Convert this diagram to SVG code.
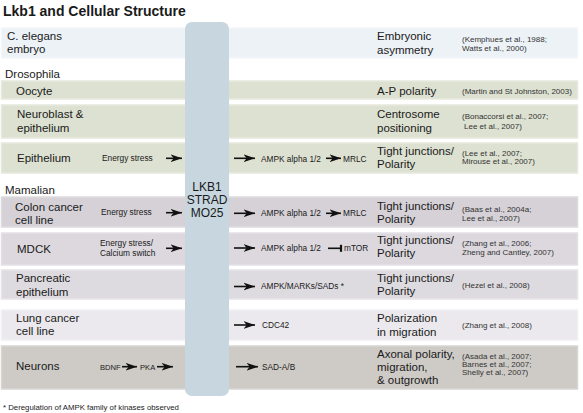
<svg xmlns="http://www.w3.org/2000/svg" width="583" height="413" viewBox="0 0 583 413">
<defs>
<style>
text{font-family:"Liberation Sans",Arial,Helvetica,sans-serif;fill:#1a1a1a}
.t{font-size:14px;font-weight:bold}
.l{font-size:11.5px}
.r{font-size:11.5px}
.s{font-size:8.3px}
.s2{font-size:7.6px}
.ref{font-size:8px;fill:#333}
.c{font-size:12px;text-anchor:middle}
.fn{font-size:7.8px}
.band{stroke-width:1.5}
.ln{stroke:#111;stroke-width:1.6;fill:none}
</style>
<marker id="ah" markerUnits="userSpaceOnUse" markerWidth="12" markerHeight="9" viewBox="0 0 12 9" refX="11.5" refY="4.5" orient="auto">
<path d="M11.5,4.5 L0,0.6 L3.2,4.5 L0,8.4 Z" fill="#111"/>
</marker>
</defs>
<rect width="583" height="413" fill="#ffffff"/>
<text class="t" x="3" y="15.5">Lkb1 and Cellular Structure</text>

<g id="celegans">
<rect class="band" x="1.5" y="28" width="576" height="30" fill="#edf2f7" stroke="#f3f6fa"/>
<text class="l" x="7" y="39.5">C. elegans</text>
<text class="l" x="7" y="52.5">embryo</text>
<text class="r" x="377" y="40">Embryonic</text>
<text class="r" x="377" y="53.5">asymmetry</text>
<text class="ref" x="462" y="42">(Kemphues et al., 1988;</text>
<text class="ref" x="462" y="51">Watts et al., 2000)</text>
</g>

<text class="l" id="drosophila" x="5" y="77.5">Drosophila</text>

<g id="oocyte">
<rect class="band" x="1.5" y="81" width="576" height="18" fill="#dde1d1" stroke="#e6e9dd"/>
<text class="l" x="16" y="94.5">Oocyte</text>
<text class="r" x="377" y="95">A-P polarity</text>
<text class="ref" x="462" y="93.5">(Martin and St Johnston, 2003)</text>
</g>

<g id="neuroblast">
<rect class="band" x="1.5" y="105" width="576" height="33" fill="#dde1d1" stroke="#e6e9dd"/>
<text class="l" x="17" y="117.5">Neuroblast &amp;</text>
<text class="l" x="17" y="131.5">epithelium</text>
<text class="r" x="377" y="117.5">Centrosome</text>
<text class="r" x="377" y="131.5">positioning</text>
<text class="ref" x="462" y="119">(Bonaccorsi et al., 2007;</text>
<text class="ref" x="464" y="128.5">Lee et al., 2007)</text>
</g>

<g id="epithelium">
<rect class="band" x="1.5" y="143" width="576" height="30" fill="#dde1d1" stroke="#e6e9dd"/>
<text class="l" x="17" y="161.5">Epithelium</text>
<text class="s" x="102" y="160.5">Energy stress</text>
<text class="s" x="261" y="161.5">AMPK alpha 1/2</text>
<text class="s" x="343" y="161.5">MRLC</text>
<text class="r" x="377" y="154.5">Tight junctions/</text>
<text class="r" x="377" y="167.5">Polarity</text>
<text class="ref" x="462" y="155.5">(Lee et al., 2007;</text>
<text class="ref" x="462" y="164">Mirouse et al., 2007)</text>
</g>

<text class="l" id="mamalian" x="5" y="193.5">Mamalian</text>

<g id="colon">
<rect class="band" x="1.5" y="197" width="576" height="30" fill="#d5d1d7" stroke="#dedbe0"/>
<text class="l" x="15" y="210.5">Colon cancer</text>
<text class="l" x="15" y="223.5">cell line</text>
<text class="s" x="101" y="215">Energy stress</text>
<text class="s" x="261" y="216">AMPK alpha 1/2</text>
<text class="s" x="343" y="216">MRLC</text>
<text class="r" x="377" y="209.5">Tight junctions/</text>
<text class="r" x="377" y="222.5">Polarity</text>
<text class="ref" x="462" y="212">(Baas et al., 2004a;</text>
<text class="ref" x="462" y="220.5">Lee et al., 2007)</text>
</g>

<g id="mdck">
<rect class="band" x="1.5" y="233" width="576" height="32" fill="#dcd8de" stroke="#e4e1e6"/>
<text class="l" x="17" y="253">MDCK</text>
<text class="s" x="100" y="245.5">Energy stress/</text>
<text class="s" x="100" y="255.5">Calcium switch</text>
<text class="s" x="261" y="251">AMPK alpha 1/2</text>
<text class="s" x="344" y="251">mTOR</text>
<text class="r" x="377" y="243.5">Tight junctions/</text>
<text class="r" x="377" y="256.5">Polarity</text>
<text class="ref" x="462" y="246">(Zhang et al., 2006;</text>
<text class="ref" x="462" y="254.5">Zheng and Cantley, 2007)</text>
</g>

<g id="pancreatic">
<rect class="band" x="1.5" y="270" width="576" height="29" fill="#dedbe0" stroke="#e6e4e8"/>
<text class="l" x="16" y="282">Pancreatic</text>
<text class="l" x="16" y="295.5">epithelium</text>
<text class="s" x="261" y="289">AMPK/MARKs/SADs *</text>
<text class="r" x="377" y="281.5">Tight junctions/</text>
<text class="r" x="377" y="295">Polarity</text>
<text class="ref" x="462" y="287.5">(Hezel et al., 2008)</text>
</g>

<g id="lung">
<rect class="band" x="1.5" y="310" width="576" height="30" fill="#ebe9ed" stroke="#f1eff3"/>
<text class="l" x="16" y="321.5">Lung cancer</text>
<text class="l" x="16" y="335">cell line</text>
<text class="s" x="262" y="328">CDC42</text>
<text class="r" x="377" y="322">Polarization</text>
<text class="r" x="377" y="335.5">in migration</text>
<text class="ref" x="462" y="328">(Zhang et al., 2008)</text>
</g>

<g id="neurons">
<rect class="band" x="1.5" y="346" width="576" height="43" fill="#cecbc7" stroke="#d8d6d3"/>
<text class="l" x="16" y="369.5">Neurons</text>
<text class="s2" x="100" y="369.7">BDNF</text>
<text class="s2" x="140" y="369.7">PKA</text>
<text class="s" x="262" y="370">SAD-A/B</text>
<text class="r" x="377" y="357.5">Axonal polarity,</text>
<text class="r" x="377" y="370.5">migration,</text>
<text class="r" x="377" y="383.5">&amp; outgrowth</text>
<text class="ref" x="462" y="358.5">(Asada et al., 2007;</text>
<text class="ref" x="462" y="366.5">Barnes et al., 2007;</text>
<text class="ref" x="462" y="374.5">Shelly et al., 2007)</text>
</g>

<g id="lkb1">
<rect x="185" y="22" width="44" height="374" rx="7" fill="#c8d6e0"/>
<text class="c" x="207" y="191">LKB1</text>
<text class="c" x="207" y="204">STRAD</text>
<text class="c" x="207" y="216.5">MO25</text>
</g>

<g id="connectors">
<line class="ln" x1="166" y1="158.3" x2="182" y2="158.3" marker-end="url(#ah)"/>
<line class="ln" x1="234" y1="158.3" x2="255" y2="158.3" marker-end="url(#ah)"/>
<line class="ln" x1="326" y1="158.3" x2="341" y2="158.3" marker-end="url(#ah)"/>
<line class="ln" x1="166" y1="212.7" x2="182" y2="212.7" marker-end="url(#ah)"/>
<line class="ln" x1="234" y1="213.3" x2="255" y2="213.3" marker-end="url(#ah)"/>
<line class="ln" x1="326" y1="213.3" x2="341" y2="213.3" marker-end="url(#ah)"/>
<line class="ln" x1="166" y1="248.3" x2="182" y2="248.3" marker-end="url(#ah)"/>
<line class="ln" x1="234" y1="248" x2="255" y2="248" marker-end="url(#ah)"/>
<line class="ln" x1="328" y1="248.3" x2="341" y2="248.3"/>
<line x1="341" y1="244.8" x2="341" y2="251.8" stroke="#111" stroke-width="2.2"/>
<line class="ln" x1="234" y1="286.5" x2="255" y2="286.5" marker-end="url(#ah)"/>
<line class="ln" x1="234" y1="325" x2="255" y2="325" marker-end="url(#ah)"/>
<line class="ln" x1="122" y1="366.7" x2="137" y2="366.7" marker-end="url(#ah)"/>
<line class="ln" x1="157" y1="366.7" x2="173" y2="366.7" marker-end="url(#ah)"/>
<line class="ln" x1="236" y1="366.7" x2="258" y2="366.7" marker-end="url(#ah)"/>
</g>

<text class="fn" x="3" y="409.5">* Deregulation of AMPK family of kinases observed</text>
</svg>
